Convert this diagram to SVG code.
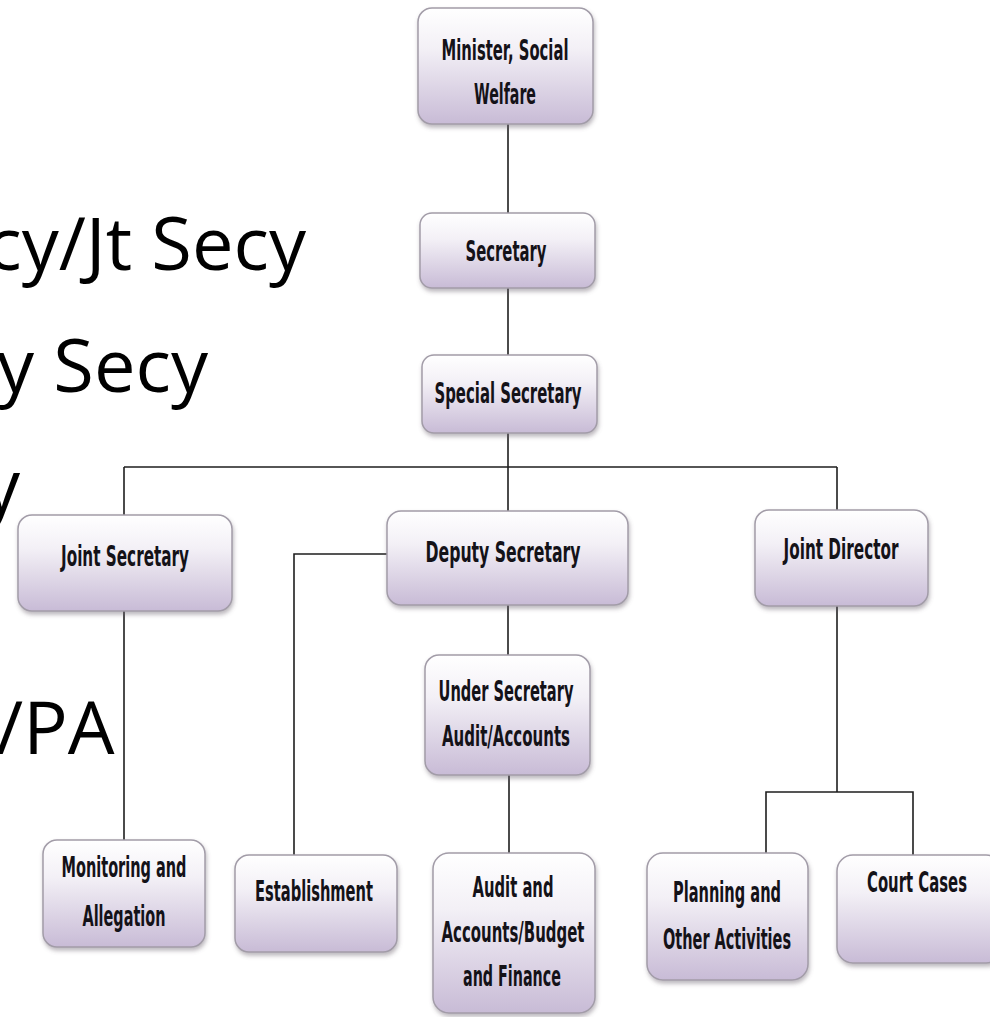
<svg xmlns="http://www.w3.org/2000/svg" width="990" height="1017" viewBox="0 0 990 1017">
<defs>
<linearGradient id="boxfill" x1="0" y1="0" x2="0" y2="1">
<stop offset="0" stop-color="#ffffff"/>
<stop offset="0.35" stop-color="#f3f0f6"/>
<stop offset="1" stop-color="#c8bbd6"/>
</linearGradient>
<filter id="shadow" x="-10%" y="-10%" width="125%" height="130%">
<feDropShadow dx="1" dy="3" stdDeviation="2" flood-color="#6a6470" flood-opacity="0.45"/>
</filter>
</defs>
<style>
.box{fill:url(#boxfill);stroke:#a29ca8;stroke-width:1.5;filter:url(#shadow)}
.lbl{font-family:"DejaVu Sans",sans-serif;font-weight:bold;font-size:28px;fill:#141218;text-anchor:middle}
.big{font-family:"Open Sans","Liberation Sans",sans-serif;font-size:74px;fill:#000}
.conn{stroke:#1e1e1e;stroke-width:1.6;fill:none}
</style>
<rect width="990" height="1017" fill="#ffffff"/>
<g id="slide-text">
<text class="big" x="306" y="270" text-anchor="end">cy/Jt Secy</text>
<text class="big" x="208" y="392" text-anchor="end">y Secy</text>
<text class="big" x="20" y="512" text-anchor="end">y</text>
<text class="big" x="-4" y="754">/PA</text>
</g>
<g id="connectors">
<path class="conn" d="M508 124V213"/>
<path class="conn" d="M508 288V355"/>
<path class="conn" d="M508 433V511"/>
<path class="conn" d="M124 467H837" stroke-width="2.2"/>
<path class="conn" d="M124 467V515"/>
<path class="conn" d="M837 467V510"/>
<path class="conn" d="M124 611V840"/>
<path class="conn" d="M387 554H294V855"/>
<path class="conn" d="M508 605V655"/>
<path class="conn" d="M509 775V853"/>
<path class="conn" d="M837 606V792"/>
<path class="conn" d="M766 853V792H913V855" stroke-width="2"/>
</g>
<g id="node-minister">
<rect class="box" x="418" y="8" width="175" height="116" rx="14"/>
<text class="lbl" x="505" y="60" textLength="127" lengthAdjust="spacingAndGlyphs">Minister, Social</text>
<text class="lbl" x="505" y="104" textLength="62" lengthAdjust="spacingAndGlyphs">Welfare</text>
</g>
<g id="node-secretary">
<rect class="box" x="420" y="213" width="175" height="75" rx="12"/>
<text class="lbl" x="506" y="261" textLength="81" lengthAdjust="spacingAndGlyphs">Secretary</text>
</g>
<g id="node-special-secretary">
<rect class="box" x="422" y="355" width="175" height="78" rx="12"/>
<text class="lbl" x="508" y="403" textLength="147" lengthAdjust="spacingAndGlyphs">Special Secretary</text>
</g>
<g id="node-joint-secretary">
<rect class="box" x="18" y="515" width="214" height="96" rx="14"/>
<text class="lbl" x="125" y="566" textLength="128" lengthAdjust="spacingAndGlyphs">Joint Secretary</text>
</g>
<g id="node-deputy-secretary">
<rect class="box" x="387" y="511" width="241" height="94" rx="14"/>
<text class="lbl" x="503" y="562" textLength="155" lengthAdjust="spacingAndGlyphs">Deputy Secretary</text>
</g>
<g id="node-joint-director">
<rect class="box" x="755" y="510" width="173" height="96" rx="14"/>
<text class="lbl" x="841" y="559" textLength="115" lengthAdjust="spacingAndGlyphs">Joint Director</text>
</g>
<g id="node-under-secretary">
<rect class="box" x="425" y="655" width="165" height="120" rx="14"/>
<text class="lbl" x="506" y="701" textLength="135" lengthAdjust="spacingAndGlyphs">Under Secretary</text>
<text class="lbl" x="506" y="746" textLength="128" lengthAdjust="spacingAndGlyphs">Audit/Accounts</text>
</g>
<g id="node-monitoring">
<rect class="box" x="43" y="840" width="162" height="107" rx="14"/>
<text class="lbl" x="124" y="877" textLength="125" lengthAdjust="spacingAndGlyphs">Monitoring and</text>
<text class="lbl" x="124" y="926" textLength="83" lengthAdjust="spacingAndGlyphs">Allegation</text>
</g>
<g id="node-establishment">
<rect class="box" x="235" y="855" width="162" height="97" rx="14"/>
<text class="lbl" x="314" y="901" textLength="118" lengthAdjust="spacingAndGlyphs">Establishment</text>
</g>
<g id="node-audit">
<rect class="box" x="433" y="853" width="162" height="160" rx="16"/>
<text class="lbl" x="513" y="897" textLength="81" lengthAdjust="spacingAndGlyphs">Audit and</text>
<text class="lbl" x="513" y="942" textLength="143" lengthAdjust="spacingAndGlyphs">Accounts/Budget</text>
<text class="lbl" x="512" y="986" textLength="98" lengthAdjust="spacingAndGlyphs">and Finance</text>
</g>
<g id="node-planning">
<rect class="box" x="647" y="853" width="161" height="127" rx="16"/>
<text class="lbl" x="727" y="902" textLength="108" lengthAdjust="spacingAndGlyphs">Planning and</text>
<text class="lbl" x="727" y="949" textLength="128" lengthAdjust="spacingAndGlyphs">Other Activities</text>
</g>
<g id="node-court-cases">
<rect class="box" x="837" y="855" width="165" height="108" rx="16"/>
<text class="lbl" x="917" y="892" textLength="100" lengthAdjust="spacingAndGlyphs">Court Cases</text>
</g>
</svg>
